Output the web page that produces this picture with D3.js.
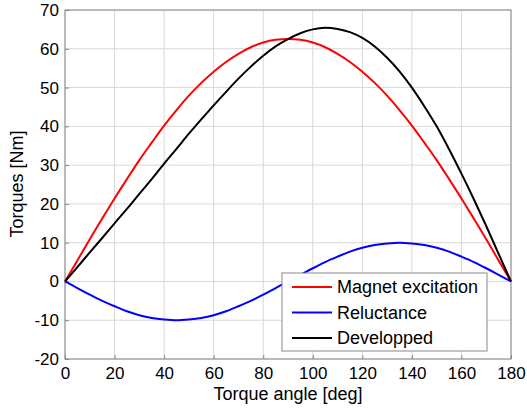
<!DOCTYPE html>
<html>
<head>
<meta charset="utf-8">
<script src="https://cdn.jsdelivr.net/npm/d3@7"></script>
<style>
  body { margin: 0; background: #fff; }
  text { font-family: "Liberation Sans", Arial, sans-serif; fill: #000; }
</style>
</head>
<body>
<svg width="527" height="410"></svg>
<script>
// Torque angle [deg]
const angles = [0, 5, 10, 15, 20, 25, 30, 35, 40, 45, 50, 55, 60, 65, 70, 75, 80, 85, 90,
  95, 100, 105, 110, 115, 120, 125, 130, 135, 140, 145, 150, 155, 160, 165, 170, 175, 180];

const magnet = [0, 5.4, 10.9, 16.2, 21.4, 26.4, 31.3, 35.8, 40.2, 44.2, 47.9, 51.2, 54.1, 56.6, 58.7, 60.4, 61.6, 62.3, 62.5,
  62.3, 61.6, 60.4, 58.7, 56.6, 54.1, 51.2, 47.9, 44.2, 40.2, 35.8, 31.3, 26.4, 21.4, 16.2, 10.9, 5.4, 0];

const reluctance = [0, -1.7, -3.4, -5.0, -6.4, -7.7, -8.7, -9.4, -9.8, -10, -9.8, -9.4, -8.7, -7.7, -6.4, -5.0, -3.4, -1.7, 0,
  1.7, 3.4, 5.0, 6.4, 7.7, 8.7, 9.4, 9.8, 10, 9.8, 9.4, 8.7, 7.7, 6.4, 5.0, 3.4, 1.7, 0];

const developped = [0, 3.7, 7.5, 11.2, 15.0, 18.7, 22.6, 26.4, 30.4, 34.2, 38.1, 41.8, 45.4, 48.9, 52.3, 55.4, 58.2, 60.6, 62.5,
  64.0, 65.0, 65.4, 65.1, 64.3, 62.8, 60.6, 57.7, 54.2, 50.0, 45.2, 40.0, 34.1, 27.8, 21.2, 14.3, 7.1, 0];

const xTicks = [0, 20, 40, 60, 80, 100, 120, 140, 160, 180];
const yTicks = [-20, -10, 0, 10, 20, 30, 40, 50, 60, 70];

const series = [
  { name: "Magnet excitation", color: "#ff0000", values: magnet },
  { name: "Reluctance", color: "#0000ff", values: reluctance },
  { name: "Developped", color: "#000000", values: developped }
];

const margin = { top: 10, right: 16, bottom: 51, left: 65 };
const width = 527 - margin.left - margin.right;
const height = 410 - margin.top - margin.bottom;

const svg = d3.select("svg");
const g = svg.append("g")
  .attr("transform", "translate(" + margin.left + "," + margin.top + ")");

const x = d3.scaleLinear().domain([0, 180]).range([0, width]);
const y = d3.scaleLinear().domain([-20, 70]).range([height, 0]);

// grid
g.append("g")
  .selectAll("line")
  .data(xTicks)
  .join("line")
  .attr("x1", d => x(d)).attr("x2", d => x(d))
  .attr("y1", 0).attr("y2", height)
  .attr("stroke", "#d8d8d8").attr("stroke-width", 1);
g.append("g")
  .selectAll("line")
  .data(yTicks)
  .join("line")
  .attr("x1", 0).attr("x2", width)
  .attr("y1", d => y(d)).attr("y2", d => y(d))
  .attr("stroke", "#d8d8d8").attr("stroke-width", 1);

// axes (ticks inside, MATLAB style) - plain hyphen for negatives
const xAxis = g.append("g")
  .attr("transform", "translate(0," + height + ")")
  .call(d3.axisBottom(x).tickValues(xTicks).tickFormat(d => String(d))
    .tickSizeInner(-4).tickSizeOuter(0).tickPadding(8));
const yAxis = g.append("g")
  .call(d3.axisLeft(y).tickValues(yTicks).tickFormat(d => String(d))
    .tickSizeInner(-4).tickSizeOuter(0).tickPadding(6));
[xAxis, yAxis].forEach(a => {
  a.select(".domain").remove();
  a.selectAll("line").attr("stroke", "#888");
  a.selectAll("text").style("font-size", "17px").style("font-family", "Liberation Sans, Arial, sans-serif").attr("fill", "#000");
});

// box
g.append("rect")
  .attr("x", 0).attr("y", 0).attr("width", width).attr("height", height)
  .attr("fill", "none").attr("stroke", "#888").attr("stroke-width", 1);

// lines
const line = d3.line()
  .x((d, i) => x(angles[i]))
  .y(d => y(d))
  .curve(d3.curveMonotoneX);

series.forEach(s => {
  g.append("path")
    .datum(s.values)
    .attr("fill", "none")
    .attr("stroke", s.color)
    .attr("stroke-width", 2)
    .attr("d", line);
});

// legend
const legend = g.append("g").attr("transform", "translate(" + (282 - margin.left) + "," + (273 - margin.top) + ")");
legend.append("rect")
  .attr("width", 205).attr("height", 78)
  .attr("fill", "#fff").attr("stroke", "#888").attr("stroke-width", 1);
series.forEach((s, i) => {
  const ly = 14 + i * 25.5;
  legend.append("line")
    .attr("x1", 10).attr("x2", 50)
    .attr("y1", ly).attr("y2", ly)
    .attr("stroke", s.color).attr("stroke-width", 2);
  legend.append("text")
    .attr("x", 55).attr("y", ly)
    .attr("dy", "0.35em")
    .style("font-size", "18px")
    .text(s.name);
});

// axis labels
svg.append("text")
  .attr("x", 288).attr("y", 399.5)
  .attr("text-anchor", "middle")
  .style("font-size", "18px")
  .text("Torque angle [deg]");
svg.append("text")
  .attr("transform", "translate(23," + 184 + ") rotate(-90)")
  .attr("text-anchor", "middle")
  .style("font-size", "18px")
  .text("Torques [Nm]");
</script>
</body>
</html>
